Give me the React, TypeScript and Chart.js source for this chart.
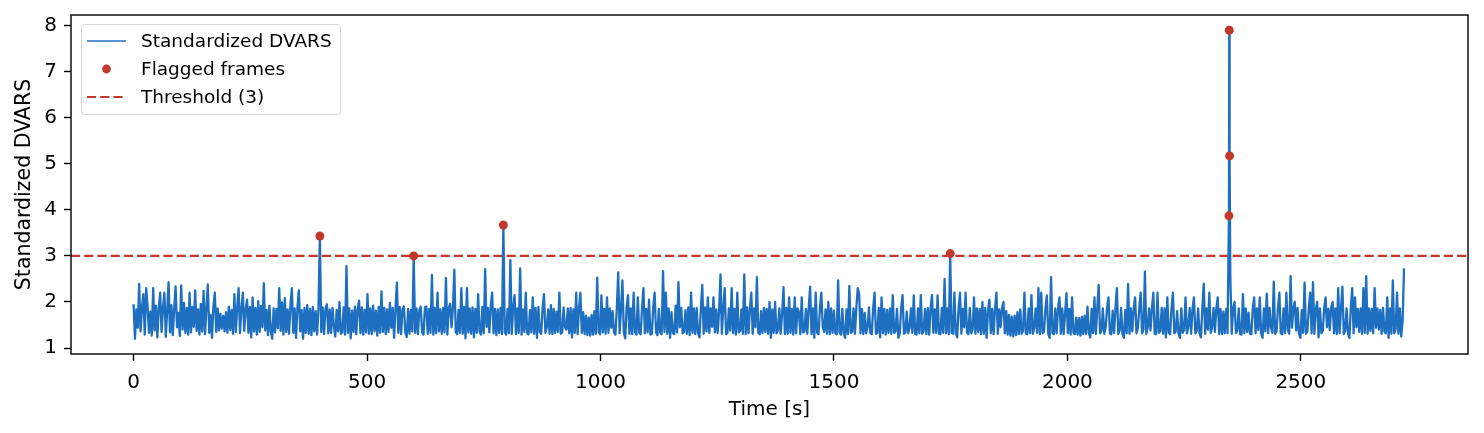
import React, { useEffect, useRef } from 'react';
import { Chart, registerables } from 'chart.js';

Chart.register(...registerables);

// sampling step of the DVARS trace, seconds
const DT = 3;

// Standardized DVARS, one value every DT seconds starting at t = 0
const dvars: number[] = [
  1.95,1.20,1.84,1.44,2.39,1.36,1.88,2.17,1.29,2.30,1.90,1.33,1.79,1.27,2.30,1.38,1.92,1.23,1.86,2.20,
  1.35,1.87,2.20,1.24,1.82,2.43,1.34,1.93,1.28,1.85,2.34,1.45,1.76,1.26,2.36,1.40,1.98,1.33,1.87,1.29,
  2.20,1.34,1.89,1.46,2.25,1.37,1.84,1.29,1.96,1.36,2.24,1.30,1.88,2.38,1.33,1.72,1.22,1.90,2.20,1.35,
  1.86,1.38,1.74,1.42,1.70,1.36,1.78,1.33,1.90,1.39,1.83,1.31,2.17,1.35,1.88,2.30,1.32,1.85,2.20,1.37,
  1.84,2.05,1.33,1.89,1.23,2.10,1.36,1.87,1.29,2.02,1.35,1.91,1.45,2.41,1.38,1.83,1.28,1.92,1.35,1.20,
  1.86,1.34,1.85,1.43,2.30,1.37,1.99,1.29,2.08,1.35,1.84,1.31,1.93,2.30,1.33,1.86,1.22,1.88,2.25,1.36,
  1.82,1.20,1.87,1.33,1.93,1.31,1.85,1.28,1.89,1.36,1.80,1.29,1.84,3.43,1.35,1.88,1.30,1.86,1.95,1.32,
  1.84,1.33,1.87,1.47,1.25,1.83,1.36,2.00,1.31,1.34,1.88,1.29,2.78,1.33,1.86,1.21,1.81,1.35,1.90,1.30,
  1.85,2.03,1.32,1.88,1.29,1.83,1.34,2.17,1.31,1.86,1.30,1.92,1.36,1.81,1.27,1.89,1.33,2.23,1.35,1.87,
  1.30,1.84,1.35,1.98,1.44,1.87,1.22,1.86,2.42,1.33,1.89,1.30,1.84,1.90,1.34,1.24,1.85,1.31,1.83,1.36,
  3.00,1.33,1.86,1.30,1.82,1.90,1.34,1.29,1.88,1.90,1.31,1.85,1.33,2.59,1.29,1.87,1.32,2.20,1.36,1.84,
  1.31,1.87,1.34,2.52,1.29,1.86,1.96,1.45,1.88,2.70,1.35,1.30,1.83,1.33,2.30,1.31,1.89,1.21,2.30,1.34,
  1.86,1.31,1.88,1.23,1.85,1.33,2.17,1.36,1.29,1.89,1.32,2.71,1.46,1.87,1.34,1.91,2.20,1.32,1.85,1.28,
  1.84,1.33,1.87,1.30,3.67,1.35,1.29,1.85,1.32,2.91,1.31,1.88,2.15,1.30,1.86,1.33,2.73,1.29,1.84,1.35,
  2.20,1.32,1.30,1.82,1.34,2.10,1.31,1.87,1.22,1.89,1.35,1.31,1.86,2.17,1.33,1.44,1.84,1.31,1.93,1.30,
  1.85,1.33,1.79,1.35,2.20,1.31,1.34,1.88,1.45,1.40,1.86,1.32,1.87,1.23,1.84,1.33,2.20,1.30,1.86,2.20,
  1.33,1.78,1.30,1.70,1.28,1.66,1.27,1.72,1.29,1.80,1.31,2.53,1.35,1.30,2.14,1.34,1.85,1.31,2.10,1.33,
  1.86,1.44,1.80,1.33,1.29,1.87,2.64,1.32,1.84,2.47,1.34,1.21,1.88,2.15,1.31,1.86,1.30,2.20,1.35,1.29,
  2.10,1.33,1.30,1.87,2.30,1.32,1.85,1.34,2.05,1.29,1.31,1.88,2.20,1.34,1.28,1.85,1.33,1.30,2.67,1.35,
  2.20,1.31,1.86,1.22,1.78,1.33,1.30,1.92,1.34,2.43,1.45,1.87,1.32,1.35,1.82,1.31,1.88,1.28,2.20,1.33,
  1.86,1.30,1.87,1.32,1.23,1.85,2.37,1.31,1.88,1.36,2.10,1.33,1.86,1.46,2.10,1.34,1.84,1.33,1.79,2.60,
  1.31,1.87,2.30,1.30,1.33,1.86,1.38,2.30,1.32,1.85,1.29,2.20,1.34,1.37,1.84,1.31,2.60,1.30,1.88,1.32,
  1.85,2.20,1.31,1.86,1.45,2.54,1.33,1.30,1.80,1.32,1.87,1.35,1.85,1.31,2.00,1.22,1.84,1.33,2.00,1.32,
  1.38,1.86,1.31,1.75,2.32,1.30,1.87,1.31,2.10,1.33,1.85,1.29,2.10,1.32,1.86,1.78,1.30,2.10,1.34,1.36,
  1.85,1.31,1.88,2.33,1.30,1.86,1.22,2.20,1.33,1.30,1.87,2.20,1.46,1.35,1.84,1.31,2.00,1.30,1.86,1.33,
  1.81,1.32,1.30,2.47,1.34,1.29,1.85,1.31,1.22,1.84,1.30,2.35,1.33,1.35,1.86,1.31,1.87,2.30,2.17,1.32,
  1.85,1.30,1.76,1.32,1.45,1.88,1.33,1.30,1.86,2.20,1.31,1.33,1.87,1.23,2.10,1.32,1.85,1.29,1.83,1.33,
  1.86,1.31,2.15,1.33,1.36,1.85,1.22,1.32,1.87,2.15,1.31,1.34,1.79,1.32,1.44,1.86,1.33,2.14,1.31,1.29,
  1.86,1.32,2.15,1.31,1.37,1.85,1.30,1.87,1.29,1.86,2.15,1.33,1.84,1.33,2.14,1.31,1.30,1.87,1.33,2.50,
  1.32,1.86,1.30,3.05,1.33,1.31,2.20,1.32,1.23,1.86,2.20,1.31,1.85,1.45,2.20,1.33,1.30,1.87,1.32,1.40,
  2.10,1.31,1.86,1.35,1.85,1.30,2.00,1.31,1.87,1.22,1.80,2.05,1.32,1.85,1.30,1.86,2.20,1.31,1.84,1.45,
  1.86,2.00,1.32,1.80,1.29,1.72,1.27,1.68,1.25,1.70,1.28,1.78,1.30,1.84,1.31,1.38,2.20,1.32,1.30,1.86,
  1.32,2.15,1.31,1.44,1.86,1.33,2.30,1.30,2.20,1.32,1.36,1.86,2.14,1.31,1.22,2.54,1.33,1.30,1.86,1.32,
  1.85,2.10,1.31,1.86,1.30,1.74,2.19,1.32,1.85,1.29,2.10,1.33,1.30,1.66,1.29,1.65,1.27,1.68,1.30,1.70,
  1.31,1.90,1.33,1.23,1.85,1.32,2.10,1.31,1.86,2.37,1.32,1.37,1.86,1.31,1.45,1.87,2.10,1.32,1.30,1.81,
  1.33,1.86,2.30,1.31,1.38,1.87,1.30,1.22,1.83,1.32,2.39,1.31,1.86,1.36,1.85,2.10,1.32,1.44,1.86,2.20,
  1.32,1.40,2.66,1.31,1.45,1.86,1.38,1.85,2.20,1.31,1.30,2.20,1.33,1.37,1.87,1.31,1.86,1.23,2.10,1.33,
  1.30,1.86,2.20,1.32,1.36,1.80,1.31,1.22,1.86,1.33,1.39,2.10,1.32,1.46,1.87,1.31,1.85,2.10,1.32,1.37,
  1.86,1.32,1.23,1.85,2.40,1.31,1.86,1.40,2.20,1.33,1.45,1.87,1.35,1.86,2.10,1.31,1.85,1.30,1.79,1.32,
  1.85,1.32,3.87,2.52,1.31,1.86,2.00,1.33,1.38,1.86,1.30,1.29,2.17,1.32,1.86,1.35,1.77,1.31,1.30,1.86,
  2.10,1.32,1.86,1.39,2.10,1.31,1.22,1.86,1.36,2.18,1.32,1.87,1.45,1.33,2.44,1.31,1.37,1.86,2.20,1.32,
  1.30,1.86,1.32,2.20,1.40,1.31,2.56,1.44,1.86,2.00,1.38,1.87,1.31,1.22,1.82,1.33,2.42,1.31,1.36,1.86,
  2.20,1.32,2.43,1.31,1.85,2.00,1.23,1.86,1.32,1.37,1.86,2.10,1.45,1.85,1.39,1.87,2.00,1.32,1.86,1.30,
  2.30,1.32,1.86,2.33,1.30,1.38,1.86,1.31,1.22,1.87,2.30,1.32,2.10,1.45,1.85,1.35,1.86,1.31,2.30,1.33,
  2.56,1.31,1.86,1.37,1.85,1.32,2.30,1.44,1.86,1.40,1.83,1.31,1.87,1.36,1.32,2.10,1.22,1.86,1.31,2.47,
  1.32,1.40,2.20,1.31,1.86,1.25,1.60,2.73,
];

// flagged frames (time in s, standardized DVARS); they belong to the DVARS trace too
const flaggedTimes: number[] = [399, 600, 792, 1749, 2346, 2346.7, 2347.4];
const flaggedValues: number[] = [3.43, 3.0, 3.67, 3.05, 3.87, 7.9, 5.17];

const threshold = 3;

const xTicks: number[] = [0, 500, 1000, 1500, 2000, 2500];
const yTicks: number[] = [1, 2, 3, 4, 5, 6, 7, 8];

const legendLabels: string[] = ['Standardized DVARS', 'Flagged frames', 'Threshold (3)'];

const X_MIN = -134;
const X_MAX = 2858;
const Y_MIN = 0.87;
const Y_MAX = 8.23;

const BLUE = '#1e6fc0';
const RED = '#c0392b';
const FONT = 'DejaVu Sans';

const decorPlugin = {
  id: 'decor',
  beforeDraw(chart: any) {
    const { ctx, width, height } = chart;
    ctx.save();
    ctx.fillStyle = '#ffffff';
    ctx.fillRect(0, 0, width, height);
    ctx.restore();
  },
  beforeDatasetsDraw(chart: any) {
    const { ctx, chartArea } = chart;
    const y = chart.scales.y.getPixelForValue(threshold);
    ctx.save();
    ctx.beginPath();
    ctx.rect(chartArea.left, chartArea.top, chartArea.right - chartArea.left, chartArea.bottom - chartArea.top);
    ctx.clip();
    ctx.strokeStyle = RED;
    ctx.lineWidth = 2.2;
    ctx.setLineDash([9.2, 4]);
    ctx.beginPath();
    ctx.moveTo(chartArea.left, y);
    ctx.lineTo(chartArea.right, y);
    ctx.stroke();
    ctx.restore();
  },
  afterDraw(chart: any) {
    const { ctx, chartArea } = chart;
    ctx.save();
    // frame
    ctx.strokeStyle = '#000000';
    ctx.lineWidth = 1.4;
    ctx.strokeRect(chartArea.left, chartArea.top, chartArea.right - chartArea.left, chartArea.bottom - chartArea.top);

    // legend
    const bx = chartArea.left + 10;
    const by = chartArea.top + 9;
    const bw = 259;
    const bh = 90;
    ctx.beginPath();
    ctx.roundRect(bx + 0.5, by + 0.5, bw, bh, 3);
    ctx.fillStyle = 'rgba(255,255,255,0.85)';
    ctx.fill();
    ctx.strokeStyle = '#d5d5d5';
    ctx.lineWidth = 1;
    ctx.stroke();

    const hx0 = bx + 6;
    const hx1 = bx + 45;
    const rows = [by + 17, by + 45, by + 73];

    ctx.strokeStyle = BLUE;
    ctx.lineWidth = 1.6;
    ctx.beginPath();
    ctx.moveTo(hx0, rows[0]);
    ctx.lineTo(hx1, rows[0]);
    ctx.stroke();

    ctx.fillStyle = RED;
    ctx.beginPath();
    ctx.arc((hx0 + hx1) / 2, rows[1], 4.4, 0, Math.PI * 2);
    ctx.fill();

    ctx.strokeStyle = RED;
    ctx.lineWidth = 2.2;
    ctx.setLineDash([9.2, 4]);
    ctx.beginPath();
    ctx.moveTo(hx0, rows[2]);
    ctx.lineTo(hx1, rows[2]);
    ctx.stroke();
    ctx.setLineDash([]);

    ctx.fillStyle = '#000000';
    ctx.font = `18.5px "${FONT}"`;
    ctx.textBaseline = 'middle';
    ctx.textAlign = 'left';
    legendLabels.forEach((t, i) => ctx.fillText(t, bx + 60, rows[i] + 1));
    ctx.restore();
  },
};

export default function App() {
  const ref = useRef<HTMLCanvasElement | null>(null);

  useEffect(() => {
    document.body.style.margin = '0';
    const canvas = ref.current;
    if (!canvas) return;
    const flagData = flaggedTimes.map((t, i) => ({ x: t, y: flaggedValues[i] }));
    const lineData = dvars
      .map((v, i) => ({ x: i * DT, y: v }))
      .concat(flagData)
      .sort((a, b) => a.x - b.x);

    const chart = new Chart(canvas, {
      type: 'line',
      data: {
        datasets: [
          {
            type: 'scatter',
            label: 'Flagged frames',
            data: flagData,
            order: 0,
            pointRadius: 4.5,
            pointBackgroundColor: RED,
            pointBorderWidth: 0,
            showLine: false,
          } as any,
          {
            type: 'line',
            label: 'Standardized DVARS',
            data: lineData,
            order: 1,
            borderColor: BLUE,
            borderWidth: 2.3,
            borderJoinStyle: 'round',
            pointRadius: 0,
            tension: 0,
            fill: false,
          } as any,
        ],
      },
      options: {
        responsive: false,
        animation: false,
        devicePixelRatio: 1,
        events: [],
        parsing: false,
        layout: { padding: { left: 0, right: 16, top: 15, bottom: 0 } },
        plugins: {
          legend: { display: false },
          tooltip: { enabled: false },
        },
        scales: {
          x: {
            type: 'linear',
            min: X_MIN,
            max: X_MAX,
            afterBuildTicks: (axis: any) => {
              axis.ticks = xTicks.map((v) => ({ value: v }));
            },
            afterFit: (axis: any) => {
              axis.height = 79;
              axis.paddingLeft = 0;
              axis.paddingRight = 0;
            },
            ticks: {
              autoSkip: false,
              maxRotation: 0,
              padding: 10,
              color: '#000000',
              font: { family: FONT, size: 20 },
              callback: (v: any) => String(v),
            },
            grid: {
              display: true,
              drawOnChartArea: false,
              drawTicks: true,
              tickLength: 7,
              tickWidth: 1.4,
              tickColor: '#000000',
            },
            border: { display: false },
            title: {
              display: true,
              text: 'Time [s]',
              color: '#000000',
              font: { family: FONT, size: 20 },
              padding: { top: 0, bottom: 11 },
            },
          },
          y: {
            type: 'linear',
            min: Y_MIN,
            max: Y_MAX,
            afterBuildTicks: (axis: any) => {
              axis.ticks = yTicks.map((v) => ({ value: v }));
            },
            afterFit: (axis: any) => {
              axis.width = 71;
              axis.paddingTop = 0;
              axis.paddingBottom = 0;
            },
            ticks: {
              padding: 7,
              color: '#000000',
              font: { family: FONT, size: 20 },
              callback: (v: any) => String(v),
            },
            grid: {
              display: true,
              drawOnChartArea: false,
              drawTicks: true,
              tickLength: 7,
              tickWidth: 1.4,
              tickColor: '#000000',
            },
            border: { display: false },
            title: {
              display: true,
              text: 'Standardized DVARS',
              color: '#000000',
              font: { family: FONT, size: 20.5 },
              padding: { top: 12, bottom: 0 },
            },
          },
        },
      },
      plugins: [decorPlugin],
    } as any);

    return () => {
      chart.destroy();
    };
  }, []);

  return (
    <div style={{ position: 'absolute', left: 0, top: 0, width: 1484, height: 433 }}>
      <canvas ref={ref} width={1484} height={433} style={{ display: 'block' }} />
    </div>
  );
}
